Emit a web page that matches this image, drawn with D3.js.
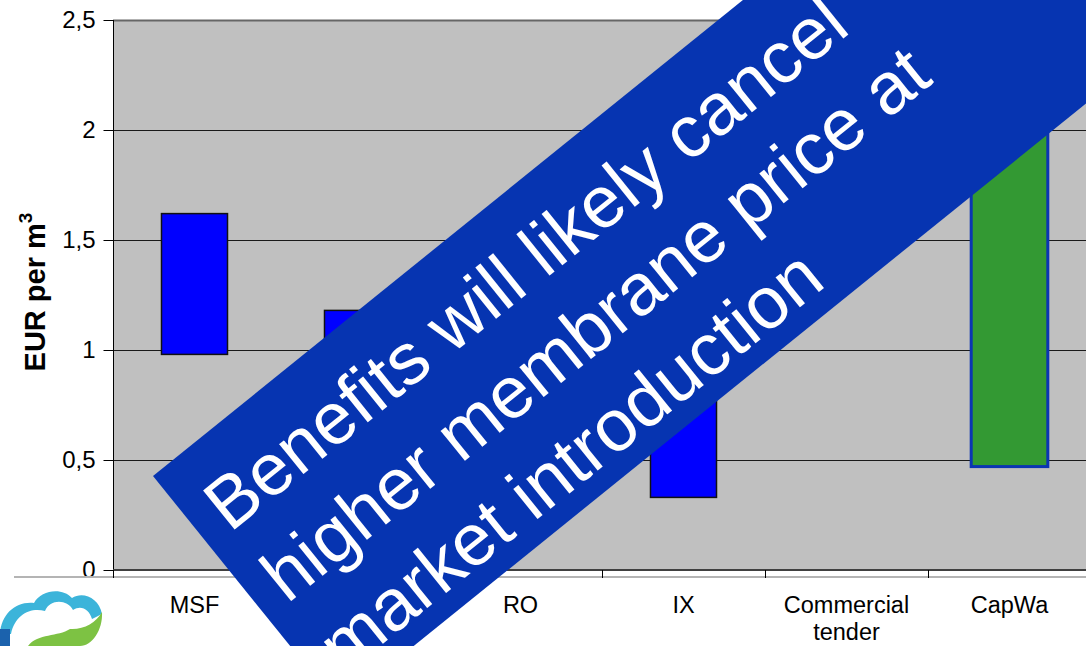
<!DOCTYPE html>
<html>
<head>
<meta charset="utf-8">
<script src="https://cdn.jsdelivr.net/npm/d3@7"></script>
<style>
  body { margin: 0; background: #fff; }
  svg { display: block; font-family: "Liberation Sans", Arial, sans-serif; }
</style>
</head>
<body>
<svg id="chart" width="1086" height="646"></svg>
<script>
// Cost ranges of water production per technology (EUR per m3)
const categories = ["MSF", "MED", "RO", "IX", "Commercial tender", "CapWa"];
const lowValues  = [0.98, 0.75, 0.45, 0.33, 1.45, 0.47];
const highValues = [1.62, 1.18, 0.90, 0.85, 1.95, 2.20];
const seriesOf   = ["conventional", "conventional", "conventional", "conventional", "conventional", "capwa"];
const yTicks     = [0, 0.5, 1, 1.5, 2, 2.5];
const yTitle     = "EUR per m";
const bannerLines = ["Benefits will likely cancel", "higher membrane price at", "market introduction"];

const svg = d3.select("#chart");
const plot = { left: 113, right: 1091, top: 20, bottom: 570 };

const x = d3.scaleBand().domain(categories).range([plot.left, plot.right]).paddingInner(0).paddingOuter(0);
const y = d3.scaleLinear().domain([0, 2.5]).range([plot.bottom, plot.top]);

const seriesStyle = {
  conventional: { fill: "#0000ff", stroke: "#111", strokeWidth: 1.5, widthFrac: 0.405 },
  capwa:        { fill: "#339933", stroke: "#0b35b3", strokeWidth: 3, widthFrac: 0.47 }
};

// plot area background
svg.append("rect")
  .attr("x", plot.left).attr("y", plot.top)
  .attr("width", plot.right - plot.left).attr("height", plot.bottom - plot.top)
  .attr("fill", "#c0c0c0");

// horizontal gridlines
svg.append("g").selectAll("line")
  .data(yTicks.filter(d => d > 0))
  .join("line")
  .attr("x1", plot.left).attr("x2", plot.right)
  .attr("y1", d => Math.round(y(d)) + 0.5).attr("y2", d => Math.round(y(d)) + 0.5)
  .attr("stroke", d => d === 2.5 ? "#666" : "#1a1a1a")
  .attr("stroke-width", d => d === 2.5 ? 2 : 1);

// floating range bars
const rows = categories.map((c, i) => ({ cat: c, lo: lowValues[i], hi: highValues[i], s: seriesStyle[seriesOf[i]] }));
svg.append("g").selectAll("rect")
  .data(rows)
  .join("rect")
  .attr("x", d => x(d.cat) + (x.bandwidth() - x.bandwidth() * d.s.widthFrac) / 2)
  .attr("width", d => x.bandwidth() * d.s.widthFrac)
  .attr("y", d => y(d.hi))
  .attr("height", d => y(d.lo) - y(d.hi))
  .attr("fill", d => d.s.fill)
  .attr("stroke", d => d.s.stroke)
  .attr("stroke-width", d => d.s.strokeWidth);

// y axis
const yAxis = d3.axisLeft(y)
  .tickValues(yTicks)
  .tickSize(10)
  .tickPadding(8)
  .tickFormat(d => d3.format(".1~f")(d).replace(".", ","));
const gy = svg.append("g").attr("transform", `translate(${plot.left + 0.5},0)`).call(yAxis);
gy.select(".domain").attr("d", `M-0,${plot.top}V${plot.bottom + 7}`).attr("stroke", "#000");
gy.selectAll(".tick line").attr("stroke", "#000");
gy.selectAll(".tick text").attr("font-size", 24).attr("fill", "#000")
  .attr("font-family", "Liberation Sans, Arial, sans-serif");

// x axis: baseline, slide rule and category separators
svg.append("line")
  .attr("x1", 14).attr("x2", 1086).attr("y1", 577).attr("y2", 577)
  .attr("stroke", "#b4b4b4").attr("stroke-width", 2);
svg.append("line")
  .attr("x1", plot.left).attr("x2", plot.right).attr("y1", plot.bottom).attr("y2", plot.bottom)
  .attr("stroke", "#404040").attr("stroke-width", 2);
svg.append("g").selectAll("line")
  .data(categories.map(c => x(c)).concat([plot.right]))
  .join("line")
  .attr("x1", d => Math.round(d) + 0.5).attr("x2", d => Math.round(d) + 0.5)
  .attr("y1", plot.bottom).attr("y2", plot.bottom + 8)
  .attr("stroke", "#000").attr("stroke-width", 1);

const xLabels = svg.append("g").selectAll("text")
  .data(categories)
  .join("text")
  .attr("x", d => x(d) + x.bandwidth() / 2)
  .attr("y", 613)
  .attr("text-anchor", "middle")
  .attr("font-size", 23.5)
  .attr("fill", "#000");
xLabels.each(function (d) {
  const words = d.split(" ");
  d3.select(this).selectAll("tspan")
    .data(words)
    .join("tspan")
    .attr("x", x(d) + x.bandwidth() / 2)
    .attr("dy", (w, i) => i === 0 ? 0 : 27)
    .text(w => w);
});

// y axis title
const title = svg.append("text")
  .attr("transform", "translate(45,292) rotate(-90)")
  .attr("text-anchor", "middle")
  .attr("font-size", 29)
  .attr("font-weight", "bold")
  .attr("fill", "#000");
title.append("tspan").text(yTitle);
title.append("tspan").attr("font-size", 19).attr("dy", -13).text("3");

// logo in the lower left corner
const logo = svg.append("g");
logo.append("path")
  .attr("d", "M0,634 C1,614 16,601 34,603 C41,590 62,587 72,598 C83,591 99,598 102,614 L92,619 C89,609 81,605 73,610 C67,599 50,599 45,611 C31,607 15,614 11,634 Z")
  .attr("fill", "#3cb4da");
logo.append("path")
  .attr("d", "M28,646 C38,633 58,637 70,629 C83,630 96,623 102,612 C103,630 92,646 80,646 Z")
  .attr("fill", "#7dc243");
logo.append("rect").attr("x", 0).attr("y", 629).attr("width", 10).attr("height", 17).attr("fill", "#1b62ad");

// diagonal message banner
const banner = svg.append("g").attr("transform", "translate(153,476) rotate(-38.9)");
banner.append("rect")
  .attr("x", 0).attr("y", 0).attr("width", 1500).attr("height", 296)
  .attr("fill", "#0634b1");
banner.selectAll("text")
  .data(bannerLines)
  .join("text")
  .attr("x", 24)
  .attr("y", (d, i) => 93 + i * 91)
  .attr("font-size", 73)
  .attr("fill", "#fff")
  .text(d => d);
</script>
</body>
</html>
